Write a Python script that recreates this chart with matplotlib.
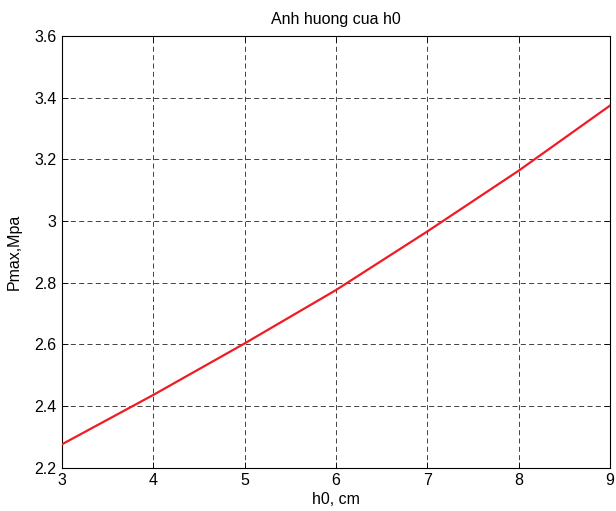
import matplotlib
matplotlib.use("Agg")
import matplotlib.pyplot as plt

plt.rcParams['font.family'] = ['Liberation Sans', 'DejaVu Sans']

h0 = [3, 4, 5, 6, 7, 8, 9]
pmax = [2.276, 2.436, 2.603, 2.776, 2.966, 3.163, 3.374]
xticks = [3, 4, 5, 6, 7, 8, 9]
yticks = [2.2, 2.4, 2.6, 2.8, 3.0, 3.2, 3.4, 3.6]
ytick_labels = ['2.2', '2.4', '2.6', '2.8', '3', '3.2', '3.4', '3.6']

fig = plt.figure(figsize=(6.16, 5.11), dpi=100)
ax = fig.add_axes([0.1006, 0.0847, 0.8894, 0.8448])
ax.plot(h0, pmax, color='#ee1c24', linewidth=1.6, zorder=3)
ax.set_xlim(3, 9)
ax.set_ylim(2.2, 3.6)
ax.set_xticks(xticks)
ax.set_yticks(yticks)
ax.set_yticklabels(ytick_labels)
ax.grid(True, color='#222222', linestyle=(0, (6, 4)), linewidth=0.6)
ax.tick_params(direction='in', top=True, right=True, length=4, labelsize=11.5, width=0.6, pad=4)
for s in ax.spines.values():
    s.set_linewidth(0.8)
ax.set_title('Anh huong cua h0', fontsize=11.5, pad=9)
ax.set_xlabel('h0, cm', fontsize=11.5, labelpad=3)
ax.set_ylabel('Pmax,Mpa', fontsize=11.5, labelpad=9)
fig.savefig('out.png', dpi=100)
